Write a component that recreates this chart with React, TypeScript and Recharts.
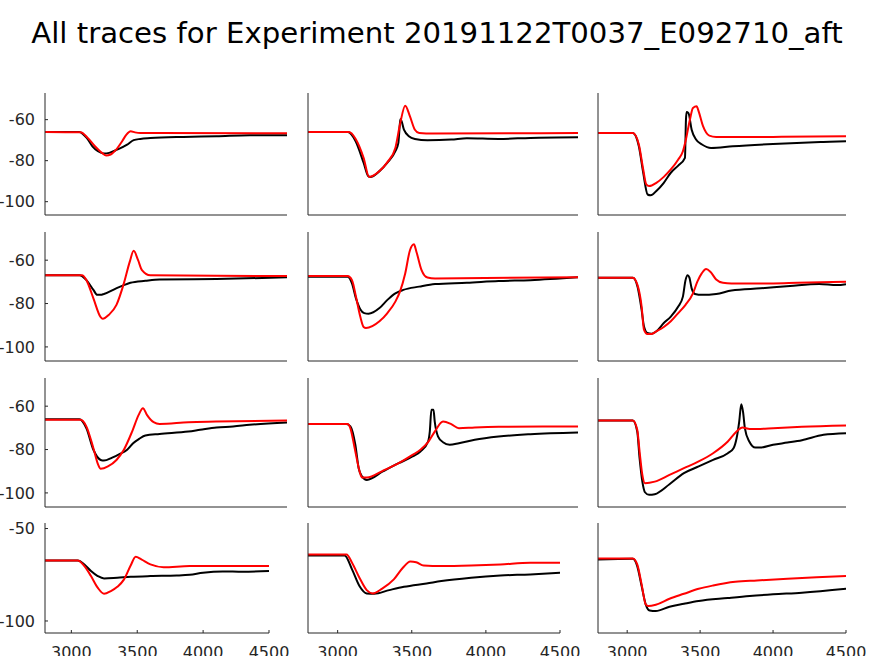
import { LineChart, Line, XAxis, YAxis } from "recharts";

type Pt = [number, number];

const title = "All traces for Experiment 20191122T0037_E092710_aft";
const xTicks = [3000, 3500, 4000, 4500];
const yTicks = [-100, -80, -60];
const yTicksBottom = [-100, -50];

// row 1
const black11: Pt[] = [[2800, -66], [3040, -66], [3093, -68.9], [3133, -73], [3172, -75.4], [3214, -76.5], [3251, -76.2], [3307, -74.6], [3377, -72.2], [3423, -70], [3470, -69.4], [3540, -69], [3772, -68.4], [4005, -68.1], [4237, -67.6], [4500, -67.6]];
const red11: Pt[] = [[2800, -66], [3050, -66.2], [3100, -68.9], [3151, -73], [3200, -76.2], [3230, -77.5], [3261, -77], [3300, -74.6], [3342, -70.5], [3372, -67.3], [3402, -65.7], [3432, -66.2], [3470, -66.5], [3600, -66.5], [4500, -66.6]];
const black12: Pt[] = [[2800, -66], [3050, -66], [3100, -70.5], [3150, -81], [3179, -87.5], [3192, -88], [3250, -85.1], [3300, -81], [3350, -75.4], [3369, -71.3], [3379, -61.6], [3383, -59.7], [3404, -64.9], [3435, -68.1], [3473, -69.4], [3552, -70], [3702, -69.7], [3800, -69.1], [4000, -69.4], [4200, -68.9], [4500, -68.6]];
const red12: Pt[] = [[2800, -66], [3058, -66], [3100, -69.4], [3150, -78.6], [3185, -88], [3250, -85.1], [3300, -80.7], [3350, -73.8], [3379, -62.4], [3412, -53.2], [3442, -58.4], [3473, -64.9], [3500, -66.5], [3587, -66.8], [4500, -66.5]];
const black13: Pt[] = [[2800, -66.5], [3039, -66.5], [3080, -73], [3110, -85.9], [3140, -96.5], [3161, -96.9], [3200, -94.8], [3251, -90.8], [3299, -85.9], [3350, -82.4], [3396, -78.6], [3403, -60], [3407, -56.3], [3420, -56.8], [3442, -64.9], [3472, -69.7], [3513, -72.1], [3575, -73.8], [3724, -73], [4000, -71.9], [4345, -70.9], [4500, -70.5]];
const red13: Pt[] = [[2800, -66.5], [3039, -66.5], [3080, -72.1], [3110, -84.3], [3131, -91.6], [3150, -92.4], [3200, -90.8], [3251, -87.9], [3299, -84.3], [3350, -79.4], [3382, -75.4], [3400, -70.5], [3430, -60], [3451, -54.3], [3476, -53.5], [3490, -56], [3520, -63.2], [3563, -67.8], [3610, -68.4], [4000, -68.4], [4500, -68.1]];

// row 2
const black21: Pt[] = [[2800, -66.9], [3042, -66.9], [3091, -69.2], [3140, -73.7], [3167, -76], [3191, -76], [3214, -75.6], [3300, -73], [3354, -71.5], [3400, -70.4], [3505, -69.5], [3605, -68.9], [4005, -68.7], [4500, -67.9]];
const red21: Pt[] = [[2800, -66.9], [3060, -66.9], [3091, -69.2], [3140, -77.6], [3191, -86.3], [3205, -87], [3249, -85.2], [3302, -80.6], [3354, -70.7], [3395, -60.8], [3423, -55.7], [3454, -60], [3481, -64.6], [3540, -67], [4005, -67.2], [4500, -67.3]];
const black22: Pt[] = [[2800, -67.6], [3050, -67.6], [3077, -70.7], [3102, -77.6], [3129, -82.6], [3154, -84.4], [3181, -84.7], [3250, -82.1], [3300, -78.3], [3350, -75.3], [3400, -73.7], [3500, -72.2], [3600, -71], [3800, -70.4], [4000, -69.6], [4200, -69.2], [4500, -67.9]];
const red22: Pt[] = [[2800, -67.3], [3050, -67.3], [3077, -69.2], [3102, -76.8], [3129, -86], [3150, -90.8], [3165, -91.3], [3250, -88.2], [3300, -84.4], [3350, -79.1], [3379, -74.5], [3412, -66.1], [3442, -55.4], [3467, -52.7], [3483, -56.2], [3515, -64.6], [3552, -68], [3600, -68.4], [4500, -67.9]];
const black23: Pt[] = [[2800, -68.1], [3039, -68.1], [3071, -72.2], [3099, -82.9], [3115, -90.5], [3138, -93.6], [3168, -93.9], [3200, -92.8], [3251, -89], [3299, -86], [3350, -81.4], [3382, -76.8], [3400, -69.2], [3414, -66.9], [3426, -67.9], [3442, -73], [3465, -75.6], [3513, -76], [3610, -75.6], [3715, -74], [3915, -73], [4116, -71.9], [4316, -71], [4438, -71.5], [4500, -71.1]];
const red23: Pt[] = [[2800, -68.1], [3039, -68.1], [3071, -71.5], [3099, -81.4], [3115, -92], [3138, -94], [3168, -94], [3200, -92.8], [3251, -90.8], [3299, -88.2], [3350, -84.4], [3400, -80.6], [3451, -75.3], [3481, -69.9], [3511, -66.1], [3541, -64.1], [3570, -65.3], [3610, -68.9], [3656, -70.4], [3715, -70.7], [4000, -70.7], [4166, -70.4], [4500, -69.9]];

// row 3
const black31: Pt[] = [[2800, -66], [3042, -66], [3091, -70.2], [3140, -80.1], [3191, -84.8], [3214, -85.1], [3272, -83.7], [3323, -82.1], [3377, -80.1], [3419, -77.1], [3461, -75.1], [3505, -73.5], [3605, -72.8], [3807, -71.7], [3889, -70.9], [4005, -69.8], [4121, -69.4], [4237, -68.6], [4500, -67.5]];
const red31: Pt[] = [[2800, -66.3], [3050, -66.3], [3091, -69.4], [3140, -79.4], [3174, -87.1], [3191, -88.9], [3242, -87.8], [3302, -84.8], [3354, -80.1], [3412, -71.7], [3458, -64], [3488, -60.9], [3516, -64], [3563, -67.4], [3605, -68.2], [3807, -67.4], [4000, -67.1], [4500, -66.6]];
const black32: Pt[] = [[2800, -68.2], [3042, -68.2], [3067, -69.3], [3098, -77.8], [3119, -88.6], [3140, -92.4], [3171, -94], [3271, -90.1], [3371, -86.3], [3458, -83.2], [3508, -80.9], [3556, -76.3], [3567, -71.6], [3577, -61.7], [3590, -61.7], [3598, -67.1], [3619, -74], [3650, -76.6], [3692, -77.8], [3750, -77.1], [3850, -75.5], [4000, -74], [4200, -72.9], [4500, -72.1]];
const red32: Pt[] = [[2800, -68.2], [3050, -68.2], [3067, -70.2], [3094, -79.4], [3125, -90.1], [3140, -92.9], [3171, -92.9], [3271, -89.8], [3371, -86.3], [3458, -82.5], [3508, -80.1], [3556, -76.6], [3598, -71.7], [3650, -67.1], [3702, -68.3], [3750, -70.2], [3850, -69.8], [4000, -69.5], [4500, -69.4]];
const black33: Pt[] = [[2800, -66.6], [3039, -66.6], [3069, -71.7], [3085, -84], [3104, -94.8], [3122, -99.7], [3150, -100.9], [3189, -100.6], [3290, -96], [3389, -90.9], [3490, -87.8], [3589, -84.8], [3690, -81.7], [3729, -79.4], [3750, -74.8], [3768, -67.1], [3782, -59.1], [3794, -62.5], [3807, -70.2], [3837, -76.3], [3879, -79.1], [3909, -79.1], [4000, -77.8], [4099, -76.8], [4198, -75.7], [4346, -73.2], [4500, -72.5]];
const red33: Pt[] = [[2800, -66.6], [3039, -66.6], [3069, -70.9], [3085, -80.9], [3104, -91.7], [3122, -95.5], [3189, -94.8], [3290, -91.7], [3389, -88.6], [3490, -85.5], [3589, -81.7], [3690, -76.3], [3750, -71.7], [3789, -69.8], [3840, -70.5], [3890, -70.5], [4000, -70.2], [4198, -69.5], [4500, -68.9]];

// row 4
const black41: Pt[] = [[2800, -67.3], [3048, -67.3], [3099, -69.4], [3149, -73], [3200, -75.7], [3248, -77], [3349, -76.6], [3450, -76.1], [3600, -75.7], [3799, -75.4], [3898, -75], [3999, -73.9], [4149, -73.2], [4300, -73.4], [4500, -73]];
const red41: Pt[] = [[2800, -67.3], [3048, -67.3], [3099, -70.3], [3149, -75.7], [3200, -82], [3248, -85.3], [3300, -83.8], [3349, -81.5], [3400, -77.5], [3450, -70], [3488, -65.3], [3531, -66.7], [3600, -69.4], [3700, -70.9], [3898, -70.3], [4500, -70.3]];
const black42: Pt[] = [[2800, -64.6], [3047, -64.6], [3097, -72.1], [3147, -81.1], [3196, -85.1], [3246, -85.3], [3348, -83.3], [3447, -81.5], [3600, -79.7], [3700, -78.4], [3900, -76.6], [4098, -75.4], [4299, -74.8], [4500, -73.9]];
const red42: Pt[] = [[2800, -64], [3060, -64], [3097, -68.5], [3147, -76.6], [3196, -83.3], [3237, -85.1], [3298, -82.6], [3379, -77.5], [3440, -71.2], [3490, -67.8], [3530, -68.2], [3580, -70], [3700, -70.3], [3900, -70], [4098, -69.4], [4299, -68.5], [4500, -68.5]];
const black43: Pt[] = [[2800, -66.7], [3039, -66.4], [3069, -70.3], [3099, -81.1], [3127, -91], [3154, -94.3], [3196, -94.6], [3290, -92.3], [3389, -90.7], [3490, -89.2], [3690, -87.6], [3840, -86.5], [4000, -85.6], [4198, -84.7], [4500, -82.6]];
const red43: Pt[] = [[2800, -66.2], [3039, -66.2], [3069, -69.4], [3099, -80.2], [3127, -91], [3145, -91.9], [3196, -91.2], [3290, -88], [3389, -85.3], [3490, -82.6], [3589, -80.8], [3741, -78.8], [3890, -78.1], [4099, -77.2], [4299, -76.4], [4500, -75.7]];

const panels: Pt[][][] = [
  [[black11, red11], [black12, red12], [black13, red13]],
  [[black21, red21], [black22, red22], [black23, red23]],
  [[black31, red31], [black32, red32], [black33, red33]],
  [[black41, red41], [black42, red42], [black43, red43]],
];

// subplot geometry, pixels
const rowTops = [93, 232, 378, 523];
const rowHeights = [122, 129, 129, 110];
const colLefts = [45, 308, 598];
const colWidths = [242, 270, 248];
const lastRowWidths = [224, 252, 248];

const axisColor = "#262626";
const toRows = (pts: Pt[]) => pts.map(([t, v]) => ({ t, v }));

function Panel({ row, col }: { row: number; col: number }) {
  const [black, red] = panels[row][col];
  const plotW = row === 3 ? lastRowWidths[col] : colWidths[col];
  const plotH = rowHeights[row];
  const yW = col === 0 ? 45 : 4;
  const xH = row === 3 ? 30 : 4;
  const pad = 4;
  const right = row === 3 ? 26 : pad;
  const tickStyle = { fill: axisColor, fontSize: 16, fontFamily: "DejaVu Sans" };
  return (
    <div style={{ position: "absolute", left: colLefts[col] - yW, top: rowTops[row] - pad }}>
      <LineChart
        width={yW + plotW + right}
        height={pad + plotH + xH}
        margin={{ top: pad, right, left: 0, bottom: 0 }}
      >
        <XAxis
          type="number"
          dataKey="t"
          domain={[2800, 4500]}
          ticks={xTicks}
          allowDataOverflow
          height={xH}
          stroke={axisColor}
          tickSize={-3}
          tickMargin={17}
          tick={row === 3 ? tickStyle : false}
        />
        <YAxis
          type="number"
          domain={[-106.5, -47]}
          ticks={row === 3 ? yTicksBottom : yTicks}
          allowDataOverflow
          width={yW}
          stroke={axisColor}
          tickSize={-3}
          tickMargin={13}
          tick={col === 0 ? tickStyle : false}
        />
        <Line data={toRows(black)} dataKey="v" type="monotone" stroke="#000000" strokeWidth={2} dot={false} isAnimationActive={false} />
        <Line data={toRows(red)} dataKey="v" type="monotone" stroke="#ff0000" strokeWidth={2} dot={false} isAnimationActive={false} />
      </LineChart>
    </div>
  );
}

export default function App() {
  return (
    <div
      style={{
        position: "absolute",
        left: 0,
        top: 0,
        width: 874,
        height: 656,
        background: "#ffffff",
        overflow: "hidden",
        fontFamily: "DejaVu Sans",
      }}
    >
      <div
        style={{
          position: "absolute",
          top: 19,
          left: 0,
          width: 874,
          textAlign: "center",
          fontSize: 29.2,
          lineHeight: "29px",
          color: "#000000",
          whiteSpace: "nowrap",
        }}
      >
        {title}
      </div>
      {rowTops.map((_, row) =>
        colLefts.map((__, col) => <Panel key={`${row}-${col}`} row={row} col={col} />)
      )}
    </div>
  );
}
